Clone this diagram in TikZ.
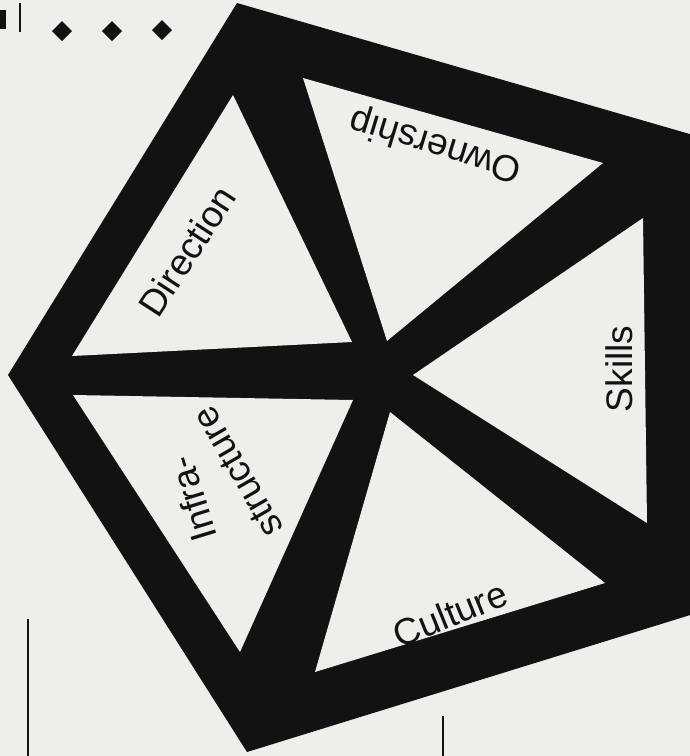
\documentclass[tikz,border=0pt]{standalone}
\usepackage{fontspec}
\setmainfont{Liberation Sans}
\begin{document}
\begin{tikzpicture}[x=1pt,y=-1pt]
\definecolor{paper}{RGB}{238,238,234}
\definecolor{ink}{RGB}{18,18,18}
\tikzset{
  lbl/.style={font=\fontsize{37}{41}\selectfont, text=ink, inner sep=0pt},
  cell/.style={fill=paper},
  rule/.style={draw=ink, line width=2pt},
  gem/.style={fill=ink}
}
\useasboundingbox (0,0) rectangle (690,756);
\clip (0,0) rectangle (690,756);
\fill[paper] (0,0) rectangle (690,756);
% outer pentagon
\fill[ink] (237,3) -- (700,137) -- (700,612) -- (247,752) -- (8,375) -- cycle;
% five cells
\fill[cell] (233,95) -- (352,342) -- (72,356) -- cycle;   % Direction
\fill[cell] (303,78) -- (603,163) -- (387,341) -- cycle;  % Ownership
\fill[cell] (643,218) -- (647,523) -- (413,375) -- cycle; % Skills
\fill[cell] (390,412) -- (605,583) -- (315,672) -- cycle; % Culture
\fill[cell] (73,395) -- (353,400) -- (240,652) -- cycle;  % Infra-structure
% labels
\node[lbl, rotate=57] (dir) at (187,251) {Direction};
\node[lbl, rotate=163] (own) at (436,144) {Ownership};
\node[lbl, rotate=90] (ski) at (619,369) {Skills};
\node[lbl, rotate=22] (cul) at (450,614) {Culture};
\node[lbl, rotate=107] (inf1) at (192,499) {Infra-};
\node[lbl, rotate=120] (inf2) at (238,472) {structure};
% page marks
\fill[ink] (-4,10) rectangle (6,29);
\draw[rule, line width=2.5pt] (20,3) -- (20,32);
\fill[gem] (62,21) -- (72,31) -- (62,41) -- (52,31) -- cycle;
\fill[gem] (112,21) -- (122,31) -- (112,41) -- (102,31) -- cycle;
\fill[gem] (162,20) -- (172,30) -- (162,40) -- (152,30) -- cycle;
\draw[rule] (28,619) -- (28,756);
\draw[rule] (443,716) -- (443,756);
\draw[ink, line width=3pt] (152,757) arc[start angle=180, end angle=50, radius=8];
\end{tikzpicture}
\end{document}
